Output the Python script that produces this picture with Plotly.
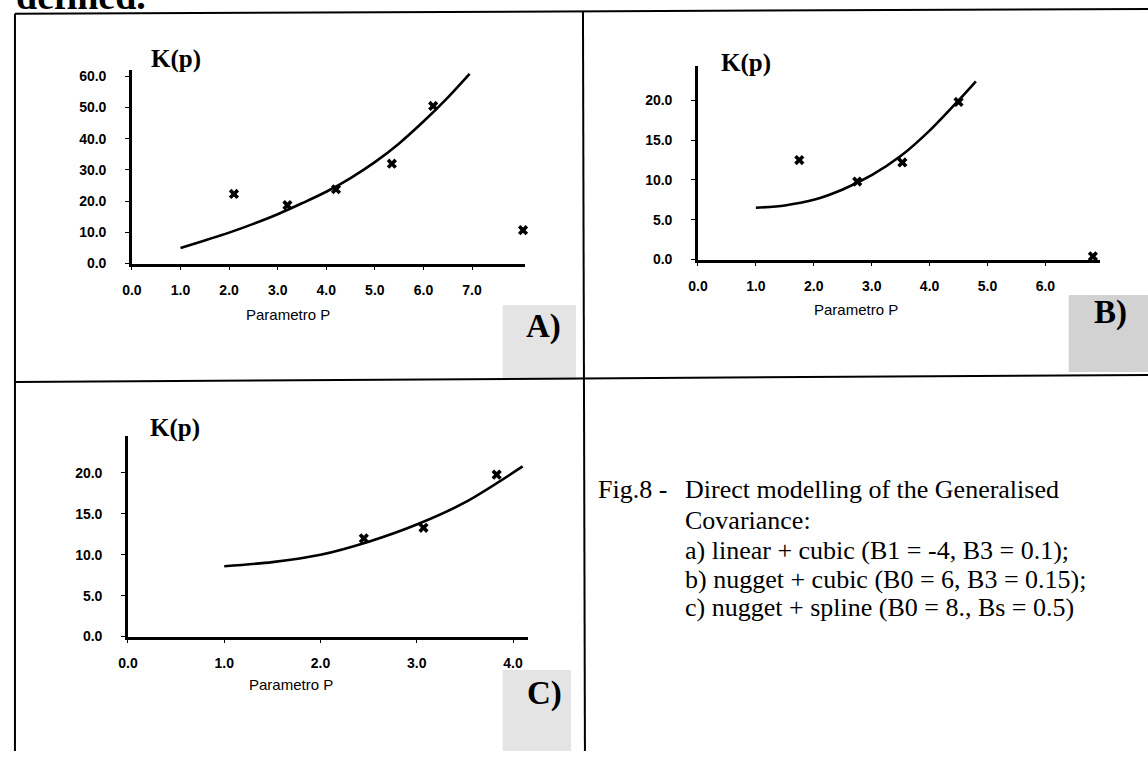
import plotly.graph_objects as go

W, H = 1148, 759

# ---------------- data ----------------
# Panel A: linear + cubic
a_pts_x = [2.1, 3.2, 4.2, 5.35, 6.2, 8.05]
a_pts_y = [22.3, 18.7, 23.8, 32.0, 50.5, 10.7]
a_fit_x = [1.0, 1.5, 2.0, 2.5, 3.0, 3.5, 4.0, 4.5, 5.0, 5.5, 6.0, 6.5, 6.95]
a_fit_y = [5.0, 7.4, 9.9, 12.7, 15.8, 19.3, 23.0, 27.4, 32.5, 38.5, 45.5, 53.2, 60.8]

# Panel B: nugget + cubic
b_pts_x = [1.75, 2.75, 3.53, 4.5, 6.82]
b_pts_y = [12.5, 9.8, 12.2, 19.8, 0.4]
b_fit_x = [1.0, 1.5, 2.0, 2.5, 3.0, 3.5, 4.0, 4.5, 4.8]
b_fit_y = [6.5, 6.8, 7.5, 8.8, 10.6, 13.0, 16.2, 20.0, 22.4]

# Panel C: nugget + spline
c_pts_x = [2.45, 3.07, 3.83]
c_pts_y = [12.0, 13.3, 19.8]
c_fit_x = [1.0, 1.5, 2.0, 2.5, 3.0, 3.5, 4.1]
c_fit_y = [8.6, 9.1, 10.0, 11.6, 13.7, 16.4, 20.8]

a_xticks = [0, 1, 2, 3, 4, 5, 6, 7]
a_yticks = [0, 10, 20, 30, 40, 50, 60]
b_xticks = [0, 1, 2, 3, 4, 5, 6]
b_yticks = [0, 5, 10, 15, 20]
c_xticks = [0, 1, 2, 3, 4]
c_yticks = [0, 5, 10, 15, 20]

y_label = "K(p)"
x_label = "Parametro P"
panel_labels = ["A)", "B)", "C)"]
caption_head = "Fig.8 -"
caption_lines = [
    "Direct modelling of the Generalised",
    "Covariance:",
    "a) linear + cubic (B1 = -4, B3 = 0.1);",
    "b) nugget + cubic (B0 = 6, B3 = 0.15);",
    "c) nugget + spline (B0 = 8., Bs = 0.5)",
]


def px(x):
    return x / W


def py(y):
    return 1 - y / H


SANS = "Liberation Sans, Arial, sans-serif"
SERIF = "Liberation Serif, Times New Roman, serif"

fig = go.Figure()

panels = [
    # (suffix, pts, fit, xrange, yrange, xdom px, ydom px (top,bottom), xticks, yticks)
    ("", a_pts_x, a_pts_y, a_fit_x, a_fit_y, [0, 8.1], [0, 62], (123, 520), (69, 265), a_xticks, a_yticks),
    ("2", b_pts_x, b_pts_y, b_fit_x, b_fit_y, [0, 6.95], [0, 24.3], (694, 1100), (65, 261), b_xticks, b_yticks),
    ("3", c_pts_x, c_pts_y, c_fit_x, c_fit_y, [0, 4.16], [0, 24.5], (119, 523), (440, 643), c_xticks, c_yticks),
]

layout_axes = {}
for suf, ptx, pty, fx, fy, xr, yr, xd, yd, xt, yt in panels:
    xa = "x" + suf
    ya = "y" + suf
    fig.add_trace(go.Scatter(
        x=fx, y=fy, mode="lines", xaxis=xa, yaxis=ya,
        line=dict(color="black", width=2.6, shape="spline", smoothing=0.8),
        showlegend=False, hoverinfo="skip", cliponaxis=False,
    ))
    fig.add_trace(go.Scatter(
        x=ptx, y=pty, mode="markers", xaxis=xa, yaxis=ya,
        marker=dict(symbol="x", size=9, color="black", line=dict(width=0)),
        showlegend=False, cliponaxis=False,
    ))
    common = dict(
        showgrid=False, zeroline=False, showline=True, linecolor="black",
        linewidth=2.5, ticks="outside", tickcolor="black", tickwidth=1.2,
        ticklen=4, tickfont=dict(family=SANS, size=14, color="black", weight="bold"),
        tickformat=".1f", fixedrange=True,
    )
    layout_axes["xaxis" + suf] = dict(
        common, range=xr, domain=[px(xd[0]), px(xd[1])], anchor=ya,
        tickvals=xt, ticklabelstandoff=8,
    )
    layout_axes["yaxis" + suf] = dict(
        common, range=yr, domain=[py(yd[1]), py(yd[0])], anchor=xa,
        tickvals=yt, ticklabelstandoff=16,
    )

fig.update_layout(**layout_axes)

annotations = []
shapes = []

# y labels K(p)
for (cx, cy) in [(167, 58), (742, 62), (166, 432)]:
    annotations.append(dict(
        x=px(cx), y=py(cy), xref="paper", yref="paper", text="<b>" + y_label + "</b>",
        showarrow=False, font=dict(family=SERIF, size=25, color="black"),
        xanchor="center", yanchor="middle",
    ))

# x labels
for (cx, cy) in [(280, 317), (853, 312), (283, 692)]:
    annotations.append(dict(
        x=px(cx), y=py(cy), xref="paper", yref="paper", text=x_label,
        showarrow=False, font=dict(family=SANS, size=15, color="black"),
        xanchor="center", yanchor="middle",
    ))

# panel label boxes
boxes = [
    ((497, 307, 571, 383), "#e4e4e4", (538, 329)),
    ((1068, 297, 1148, 375), "#d2d2d2", (1110, 315)),
    ((497, 677, 566, 759), "#e4e4e4", (539, 701)),
]
for (x0, y0, x1, y1), col, _ in boxes:
    shapes.append(dict(
        type="rect", xref="paper", yref="paper",
        x0=px(x0), x1=px(x1), y0=py(y1), y1=py(y0),
        fillcolor=col, line=dict(width=0), layer="below",
    ))
for lab, (_, _, (cx, cy)) in zip(panel_labels, boxes):
    annotations.append(dict(
        x=px(cx), y=py(cy), xref="paper", yref="paper", text="<b>" + lab + "</b>",
        showarrow=False, font=dict(family=SERIF, size=33, color="black"),
        xanchor="center", yanchor="middle",
    ))

# caption
cap_ys = [494, 525, 556, 585, 614]
annotations.append(dict(
    x=px(591), y=py(cap_ys[0]), xref="paper", yref="paper", text=caption_head,
    showarrow=False, font=dict(family=SERIF, size=26, color="black"),
    xanchor="left", yanchor="middle",
))
for t, yy in zip(caption_lines, cap_ys):
    annotations.append(dict(
        x=px(679), y=py(yy), xref="paper", yref="paper", text=t,
        showarrow=False, font=dict(family=SERIF, size=26, color="black"),
        xanchor="left", yanchor="middle",
    ))

# cut-off text line at the very top
annotations.append(dict(
    x=px(4), y=py(17), xref="paper", yref="paper", text="<b>defined.</b>",
    showarrow=False, font=dict(family=SERIF, size=38, color="black"),
    xanchor="left", yanchor="bottom",
))

# frame lines
frame = [
    (5, 12, 1148, 7),      # top
    (5, 12, 5, 759),       # left
    (578, 10, 580, 759),   # middle vertical
    (5, 385, 1148, 378),   # middle horizontal
]
for x0, y0, x1, y1 in frame:
    shapes.append(dict(
        type="line", xref="paper", yref="paper",
        x0=px(x0), y0=py(y0), x1=px(x1), y1=py(y1),
        line=dict(color="black", width=2),
    ))

fig.update_layout(
    width=W, height=H, autosize=False,
    margin=dict(l=0, r=0, t=0, b=0),
    paper_bgcolor="white", plot_bgcolor="rgba(0,0,0,0)",
    annotations=annotations, shapes=shapes,
)

fig.write_html(
    "out.html",
    config={"displayModeBar": False},
    post_script="document.body.style.margin='0';document.body.style.overflow='hidden';",
)
